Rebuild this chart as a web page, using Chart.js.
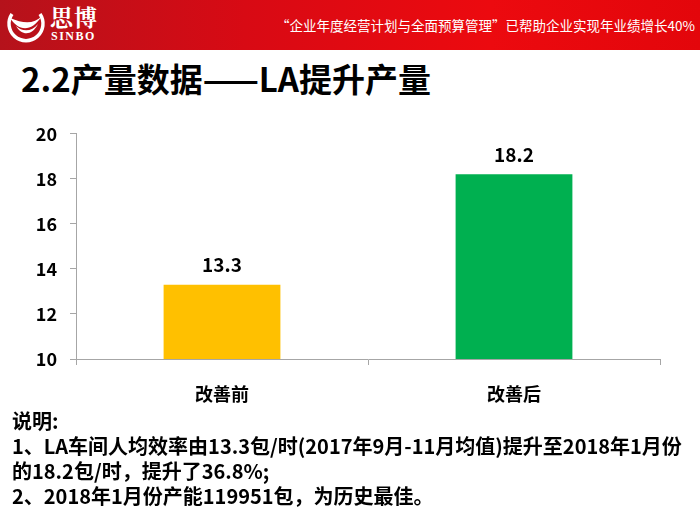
<!DOCTYPE html>
<html>
<head>
<meta charset="utf-8">
<script src="https://cdn.jsdelivr.net/npm/chart.js@4/dist/chart.umd.min.js"></script>
<style>
  html, body { margin: 0; padding: 0; background: #fff; }
  body { width: 700px; height: 525px; position: relative; overflow: hidden;
         font-family: "Noto Sans CJK SC", sans-serif; }
  .header { position: absolute; left: 0; top: 0; width: 700px; height: 50px;
            background: linear-gradient(90deg, #b5121b 0%, #d80a14 35%, #ec0a0f 70%, #e3060b 100%); }
  .logo { position: absolute; left: 4px; top: 4px; }
  .brand-cn { position: absolute; left: 50px; top: 0px; color: #fff; font-size: 23px; font-weight: bold;
              font-family: "Noto Serif CJK SC", "Noto Sans CJK SC", serif; letter-spacing: 1px; }
  .brand-en { position: absolute; left: 51px; top: 29px; color: #fff; font-size: 12px; font-weight: bold;
              font-family: "Liberation Serif", serif; letter-spacing: 1.5px; }
  .slogan { position: absolute; right: 5px; top: 15px; color: #fff; font-size: 13.5px; white-space: nowrap; }
  .title { position: absolute; left: 21px; top: 54px; font-size: 33px; font-weight: bold; color: #000; white-space: nowrap; }
  .chart-box { position: absolute; left: 0; top: 110px; width: 700px; height: 300px; }
  .notes { position: absolute; left: 12px; top: 408px; font-size: 20px; font-weight: bold; color: #000;
           line-height: 25px; white-space: nowrap; }
</style>
</head>
<body>
<div class="header">
  <svg class="logo" width="44" height="42" viewBox="0 0 44 42">
    <path d="M8 10 A17 17 0 1 0 36 10" fill="none" stroke="#fff" stroke-width="3.5"/>
    <path d="M6 14 C14 26 26 30 38 12 C30 20 20 20 6 14 Z" fill="#fff"/>
    <path d="M12 22 C18 32 28 32 34 20 C28 28 18 28 12 22 Z" fill="#fff"/>
  </svg>
  <div class="brand-cn">思博</div>
  <div class="brand-en">SINBO</div>
  <div class="slogan">“企业年度经营计划与全面预算管理”已帮助企业实现年业绩增长40%</div>
</div>
<div class="title">2.2产量数据——LA提升产量</div>
<div class="chart-box"><canvas id="chart" width="700" height="300"></canvas></div>
<div class="notes">
  说明:<br>
  1、LA车间人均效率由13.3包/时(2017年9月-11月均值)提升至2018年1月份<br>
  的18.2包/时，提升了36.8%;<br>
  2、2018年1月份产能119951包，为历史最佳。
</div>
<script>
// LA 产量数据 - before / after bar chart

const categories = ['改善前', '改善后'];
const outputValues = [13.3, 18.2];
const barColors = ['#FFC000', '#00B050'];
const yTicks = { min: 10, max: 20, step: 2 };

const valueLabels = {
    id: 'valueLabels',
    afterDatasetsDraw(chart) {
        const ctx = chart.ctx;
        const meta = chart.getDatasetMeta(0);
        ctx.save();
        ctx.font = 'bold 19px "Noto Sans CJK SC"';
        ctx.fillStyle = '#000';
        ctx.textAlign = 'center';
        ctx.textBaseline = 'middle';
        meta.data.forEach(function(bar, i) {
            ctx.fillText(outputValues[i].toFixed(1), bar.x, bar.y - 20);
        });
        ctx.restore();
    }
};

const ctx = document.getElementById('chart').getContext('2d');

new Chart(ctx, {
    type: 'bar',
    data: {
        labels: categories,
        datasets: [{
            data: outputValues,
            backgroundColor: barColors,
            borderWidth: 0,
            categoryPercentage: 0.4,
            barPercentage: 1.0
        }]
    },
    options: {
        responsive: false,
        animation: false,
        layout: {
            padding: { top: 22, right: 40, left: 0, bottom: 0 }
        },
        plugins: {
            legend: { display: false },
            tooltip: { enabled: false }
        },
        scales: {
            x: {
                afterFit: function(scale) { scale.height = 51; },
                grid: {
                    offset: true,
                    drawOnChartArea: false,
                    drawTicks: true,
                    tickLength: 6,
                    color: '#A6A6A6'
                },
                border: { display: true, color: '#A6A6A6', width: 1 },
                ticks: {
                    color: '#000',
                    padding: 18,
                    font: { family: 'Noto Sans CJK SC', size: 18, weight: 'bold' }
                }
            },
            y: {
                min: yTicks.min,
                max: yTicks.max,
                afterFit: function(scale) { scale.width = 76; },
                grid: {
                    drawOnChartArea: false,
                    drawTicks: true,
                    tickLength: 6,
                    color: '#A6A6A6'
                },
                border: { display: true, color: '#A6A6A6', width: 1 },
                ticks: {
                    stepSize: yTicks.step,
                    color: '#000',
                    padding: 13,
                    font: { family: 'Noto Sans CJK SC', size: 18, weight: 'bold' }
                }
            }
        }
    },
    plugins: [valueLabels]
});
</script>
</body>
</html>
